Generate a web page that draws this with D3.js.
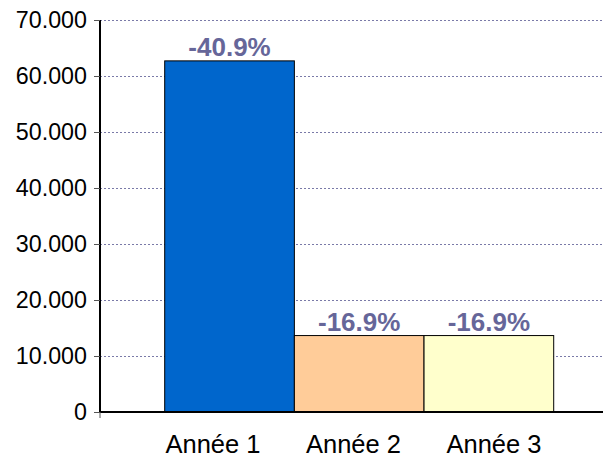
<!DOCTYPE html>
<html lang="fr">
<head>
<meta charset="utf-8">
<title>Année</title>
<script src="https://d3js.org/d3.v7.min.js"></script>
<style>
body { margin: 0; background: #fff; }
text { font-family: "Liberation Sans", Arial, sans-serif; }
</style>
</head>
<body>
<script>
// data
const categories = ["Année 1", "Année 2", "Année 3"];
const values = [62700, 13650, 13650];
const changeLabels = ["-40.9%", "-16.9%", "-16.9%"];
const barColors = ["#0066cc", "#ffcc99", "#ffffcc"];
const yTicks = [0, 10000, 20000, 30000, 40000, 50000, 60000, 70000];

const width = 610, height = 456;
const plotLeft = 100, plotRight = 603, plotTop = 20, plotBottom = 412;

const svg = d3.select("body").append("svg")
    .attr("width", width)
    .attr("height", height);

const x = d3.scaleBand()
    .domain(categories)
    .range([164.7, 553.7])
    .padding(0);

// the category labels sit on a slightly wider spacing than the bars
const xLabel = d3.scalePoint()
    .domain(categories)
    .range([213, 494]);

const y = d3.scaleLinear()
    .domain([0, 70000])
    .range([plotBottom, plotTop]);

// stretch text horizontally to match the original's glyph widths
function stretch(sel, k) {
    sel.each(function() {
        const w = this.getComputedTextLength();
        d3.select(this)
            .attr("textLength", w * k)
            .attr("lengthAdjust", "spacingAndGlyphs");
    });
}

// dotted grid
svg.append("g")
    .selectAll("line")
    .data(yTicks.filter(d => d > 0))
    .join("line")
    .attr("x1", plotLeft)
    .attr("x2", plotRight)
    .attr("y1", d => y(d) + 0.5)
    .attr("y2", d => y(d) + 0.5)
    .attr("stroke", "#7a7aa8")
    .attr("stroke-width", 1)
    .attr("stroke-dasharray", "2,2");

// bars
svg.append("g")
    .selectAll("rect")
    .data(values)
    .join("rect")
    .attr("x", (d, i) => x(categories[i]))
    .attr("y", d => y(d))
    .attr("width", x.bandwidth())
    .attr("height", d => plotBottom - y(d))
    .attr("fill", (d, i) => barColors[i])
    .attr("stroke", "#000")
    .attr("stroke-width", 1);

// value labels
svg.append("g")
    .selectAll("text")
    .data(values)
    .join("text")
    .attr("x", (d, i) => x(categories[i]) + x.bandwidth() / 2)
    .attr("y", d => y(d) - 4.7)
    .attr("text-anchor", "middle")
    .attr("font-size", 25)
    .attr("font-weight", "bold")
    .attr("fill", "#666699")
    .text((d, i) => changeLabels[i])
    .call(stretch, 1.04);

// y axis
const yAxis = d3.axisLeft(y)
    .tickValues(yTicks)
    .tickSize(6)
    .tickPadding(7)
    .tickFormat(d => d === 0 ? "0" : d3.format(",")(d).replace(/,/g, "."));

const gy = svg.append("g")
    .attr("transform", `translate(${plotLeft},0)`)
    .call(yAxis);
gy.select(".domain").attr("stroke", "#000").attr("stroke-width", 2)
    .attr("d", `M0,${plotTop}V${plotBottom}`);
gy.selectAll(".tick line").attr("stroke", "#555");
gy.selectAll(".tick text")
    .attr("font-size", 24)
    .attr("font-family", "Liberation Sans, Arial, sans-serif")
    .attr("fill", "#000")
    .call(stretch, 0.97);

// x axis
const gx = svg.append("g")
    .attr("transform", `translate(0,${plotBottom})`);
gx.append("path")
    .attr("d", `M${plotLeft},0H${plotRight}`)
    .attr("stroke", "#000")
    .attr("stroke-width", 2);
gx.selectAll("text")
    .data(categories)
    .join("text")
    .attr("x", d => xLabel(d))
    .attr("y", 40.5)
    .attr("text-anchor", "middle")
    .attr("font-size", 25.5)
    .attr("fill", "#000")
    .text(d => d);

// small tick below origin
svg.append("line")
    .attr("x1", plotLeft).attr("x2", plotLeft)
    .attr("y1", plotBottom).attr("y2", plotBottom + 6)
    .attr("stroke", "#555");
</script>
</body>
</html>
